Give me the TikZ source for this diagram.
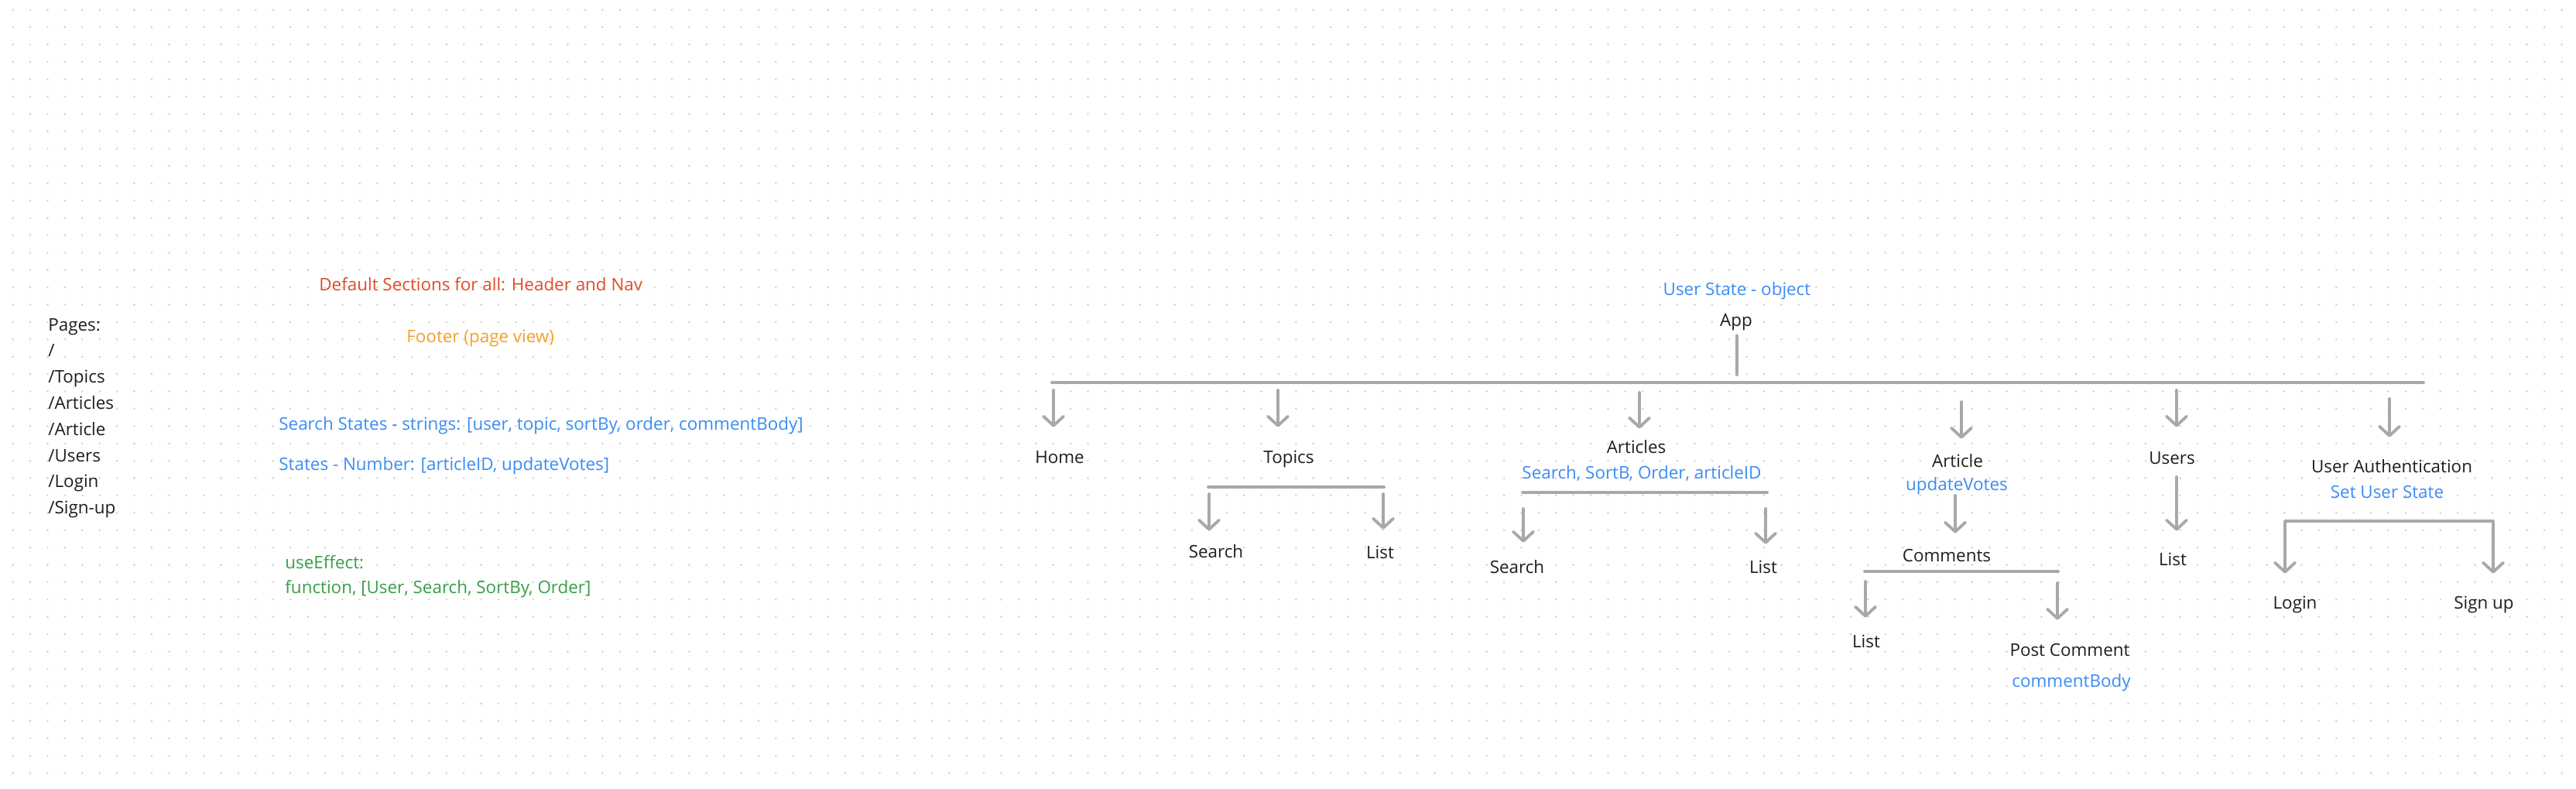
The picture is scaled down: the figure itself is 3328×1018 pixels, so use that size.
\documentclass[tikz,border=0pt]{standalone}
\usepackage{fontspec}
\setmainfont{Open Sans}
\usetikzlibrary{arrows.meta}

\definecolor{ink}{RGB}{30,30,30}
\definecolor{linegray}{RGB}{168,168,168}
\definecolor{dotgray}{RGB}{204,204,204}
\definecolor{stateblue}{RGB}{58,140,245}
\definecolor{sectred}{RGB}{224,75,38}
\definecolor{footorange}{RGB}{245,160,40}
\definecolor{effectgreen}{RGB}{56,158,72}

\tikzset{
  lbl/.style={inner sep=0pt, text height=8pt, text depth=0pt,
    font=\fontsize{11.2}{13}\selectfont, text=ink},
  state/.style={lbl, text=stateblue},
  bar/.style={draw=linegray, line width=1.9pt, line cap=round, line join=round},
  arr/.style={bar, -{Straight Barb[round, length=6pt, width=13pt]}},
  arrboth/.style={bar, {Straight Barb[round, length=6pt, width=13pt]}-{Straight Barb[round, length=6pt, width=13pt]}},
}

\begin{document}
\begin{tikzpicture}[x=0.5pt, y=-0.5pt]
    \fill[white] (0,0) rectangle (3328,1018);
    \useasboundingbox (0,0) rectangle (3328,1018);
    % dot grid
    \foreach \r in {0,...,44}
        \draw[dotgray, line width=1.3pt, line cap=round, dash pattern=on 0pt off 11.2pt]
            (16.7,12.7+22.4*\r) -- (3328,12.7+22.4*\r);

    % pages
    \foreach \p [count=\i from 0] in {Pages:,/,/Topics,/Articles,/Article,/Users,/Login,/Sign-up}
        \node[lbl, anchor=west] (page\i) at (62,419+33.8*\i) {\p};

    % notes
    \node[lbl, anchor=west, text=sectred] (sections) at (412,367) {Default Sections for all: Header and Nav};
    \node[lbl, anchor=west, text=footorange] (footer) at (525,434) {Footer (page view)};
    \node[state, anchor=west] (strstates) at (360,547) {Search States - strings: [user, topic, sortBy, order, commentBody]};
    \node[state, anchor=west] (numstates) at (360,599) {States - Number: [articleID, updateVotes]};
    \node[lbl, anchor=west, text=effectgreen] (effect) at (368,726) {useEffect:};
    \node[lbl, anchor=west, text=effectgreen] (effectfn) at (368,758) {function, [User, Search, SortBy, Order]};

    % root
    \node[state] (userstate) at (2244,373) {User State - object};
    \node[lbl] (app) at (2243,413) {App};
    \coordinate (appfoot) at (2244,484);
    \coordinate (mainL) at (1359,494);
    \coordinate (mainR) at (3131,494);
    \draw[bar, shorten <=6pt] (appfoot |- app.south) -- (appfoot);
    \draw[bar] (mainL) -- (mainR);

    % pages under app
    \node[lbl] (home) at (1369,590) {Home};
    \node[lbl] (topics) at (1665,590) {Topics};
    \node[lbl] (articles) at (2114,577) {Articles};
    \node[state] (articlesstate) at (2121,610) {Search, SortB, Order, articleID};
    \node[lbl] (article) at (2529,595) {Article};
    \node[state] (articlestate) at (2528,625) {updateVotes};
    \node[lbl] (users) at (2806,591) {Users};
    \node[lbl] (auth) at (3090,602) {User Authentication};
    \node[state] (authstate) at (3084,635) {Set User State};

    \coordinate (ahome) at (1361,504);
    \coordinate (atopics) at (1651,504);
    \coordinate (aarticles) at (2118,507);
    \coordinate (aarticle) at (2534,519);
    \coordinate (ausers) at (2812,504);
    \coordinate (aauth) at (3087,515);
    \draw[arr, shorten >=15pt] (ahome) -- (ahome |- home.north);
    \draw[arr, shorten >=15pt] (atopics) -- (atopics |- topics.north);
    \draw[arr, shorten >=7.5pt] (aarticles) -- (aarticles |- articles.north);
    \draw[arr, shorten >=10pt] (aarticle) -- (aarticle |- article.north);
    \draw[arr, shorten >=15.5pt] (ausers) -- (ausers |- users.north);
    \draw[arr, shorten >=14.5pt] (aauth) -- (aauth |- auth.north);

    % topics
    \node[lbl] (tsearch) at (1571,712) {Search};
    \node[lbl] (tlist) at (1783,713) {List};
    \coordinate (tbarL) at (1561,629);
    \coordinate (tbarR) at (1788,629);
    \draw[bar] (tbarL) -- (tbarR);
    \draw[arr, shorten >=9pt] (1562,638) coordinate (atsearch) -- (atsearch |- tsearch.north);
    \draw[arr, shorten >=10.5pt] (1787,638) coordinate (atlist) -- (atlist |- tlist.north);

    % articles
    \node[lbl] (asearch) at (1960,732) {Search};
    \node[lbl] (alist) at (2278,732) {List};
    \coordinate (abarL) at (1967,636);
    \coordinate (abarR) at (2283,636);
    \draw[bar] (abarL) -- (abarR);
    \draw[arr, shorten >=11.5pt] (1968,657) coordinate (aasearch) -- (aasearch |- asearch.north);
    \draw[arr, shorten >=10.5pt] (2281,657) coordinate (aalist) -- (aalist |- alist.north);

    % article
    \node[lbl] (comments) at (2515,717) {Comments};
    \draw[arr, shorten >=10pt] (2526,640) coordinate (acomments) -- (acomments |- comments.north);
    \node[lbl] (clist) at (2411,828) {List};
    \node[lbl] (postcomment) at (2674,839) {Post Comment};
    \node[state] (commentstate) at (2676,879) {commentBody};
    \coordinate (cbarL) at (2409,738);
    \coordinate (cbarR) at (2659,738);
    \draw[bar] (cbarL) -- (cbarR);
    \draw[arr, shorten >=11pt] (2410,751) coordinate (aclist) -- (aclist |- clist.north);
    \draw[arr, shorten >=15pt] (2658,753) coordinate (apost) -- (apost |- postcomment.north);

    % users
    \node[lbl] (ulist) at (2807,722) {List};
    \draw[arr, shorten >=14pt] (2812,616) coordinate (aulist) -- (aulist |- ulist.north);

    % user authentication
    \node[lbl] (login) at (2965,778) {Login};
    \node[lbl] (signup) at (3209,778) {Sign up};
    \coordinate (authL) at (2952,673);
    \coordinate (authR) at (3221,673);
    \draw[arrboth, shorten <=14.5pt, shorten >=14.5pt]
        (authL |- login.north) -- (authL) -- (authR) -- (authR |- signup.north);

\end{tikzpicture}
\end{document}
